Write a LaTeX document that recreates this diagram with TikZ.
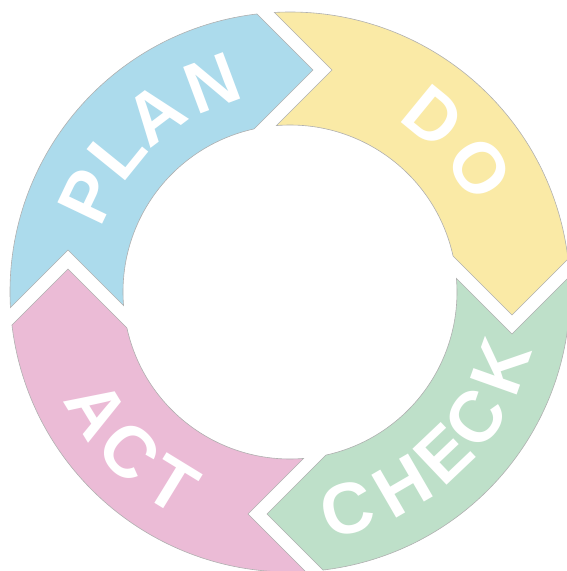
\documentclass[tikz,border=0pt]{standalone}
\usepackage{fontspec}
\newfontfamily\pdcafont{Liberation Sans}
\definecolor{planc}{HTML}{ACDBEC}
\definecolor{doc}{HTML}{FAEAA6}
\definecolor{checkc}{HTML}{BEE0C9}
\definecolor{actc}{HTML}{EBBBD6}
\definecolor{edgec}{HTML}{B0B0B0}
\begin{document}
\begin{tikzpicture}[x=1pt,y=1pt,
  seg/.style={draw=edgec, line width=0.6pt, line join=miter},
  letter/.style={text=white, inner sep=0pt, font=\pdcafont\bfseries\fontsize{72}{72}\selectfont}]
\useasboundingbox (-290,-279) rectangle (277,292);
\foreach \o/\c in {0/planc, -90/doc, -180/checkc, -270/actc} {
  \path[seg, fill=\c] ({183.19+\o}:280) arc[start angle={183.19+\o}, end angle={96.77+\o}, radius=280]
    -- ({84.09+\o}:223.2) -- ({102.41+\o}:167)
    arc[start angle={102.41+\o}, end angle={184.65+\o}, radius=167]
    -- ({169.29+\o}:225.9) -- cycle;
}
\foreach \l/\a [count=\i] in {P/154.5, L/141, A/127, N/110.5}
  \node[letter, rotate={\a-90}] (plan\i) at (\a:223) {\l};
\foreach \l/\a [count=\i] in {D/50.7, O/33.1}
  \node[letter, rotate={\a-90}] (do\i) at (\a:226) {\l};
\foreach \l/\a [count=\i] in {C/-75.1, H/-59.9, E/-46.5, C/-34.2, K/-19.6}
  \node[letter, rotate={\a+90}] (check\i) at (\a:224) {\l};
\foreach \l/\a [count=\i] in {A/211.3, C/224.8, T/238.5}
  \node[letter, rotate={\a+90}] (act\i) at (\a:226) {\l};
\end{tikzpicture}
\end{document}
